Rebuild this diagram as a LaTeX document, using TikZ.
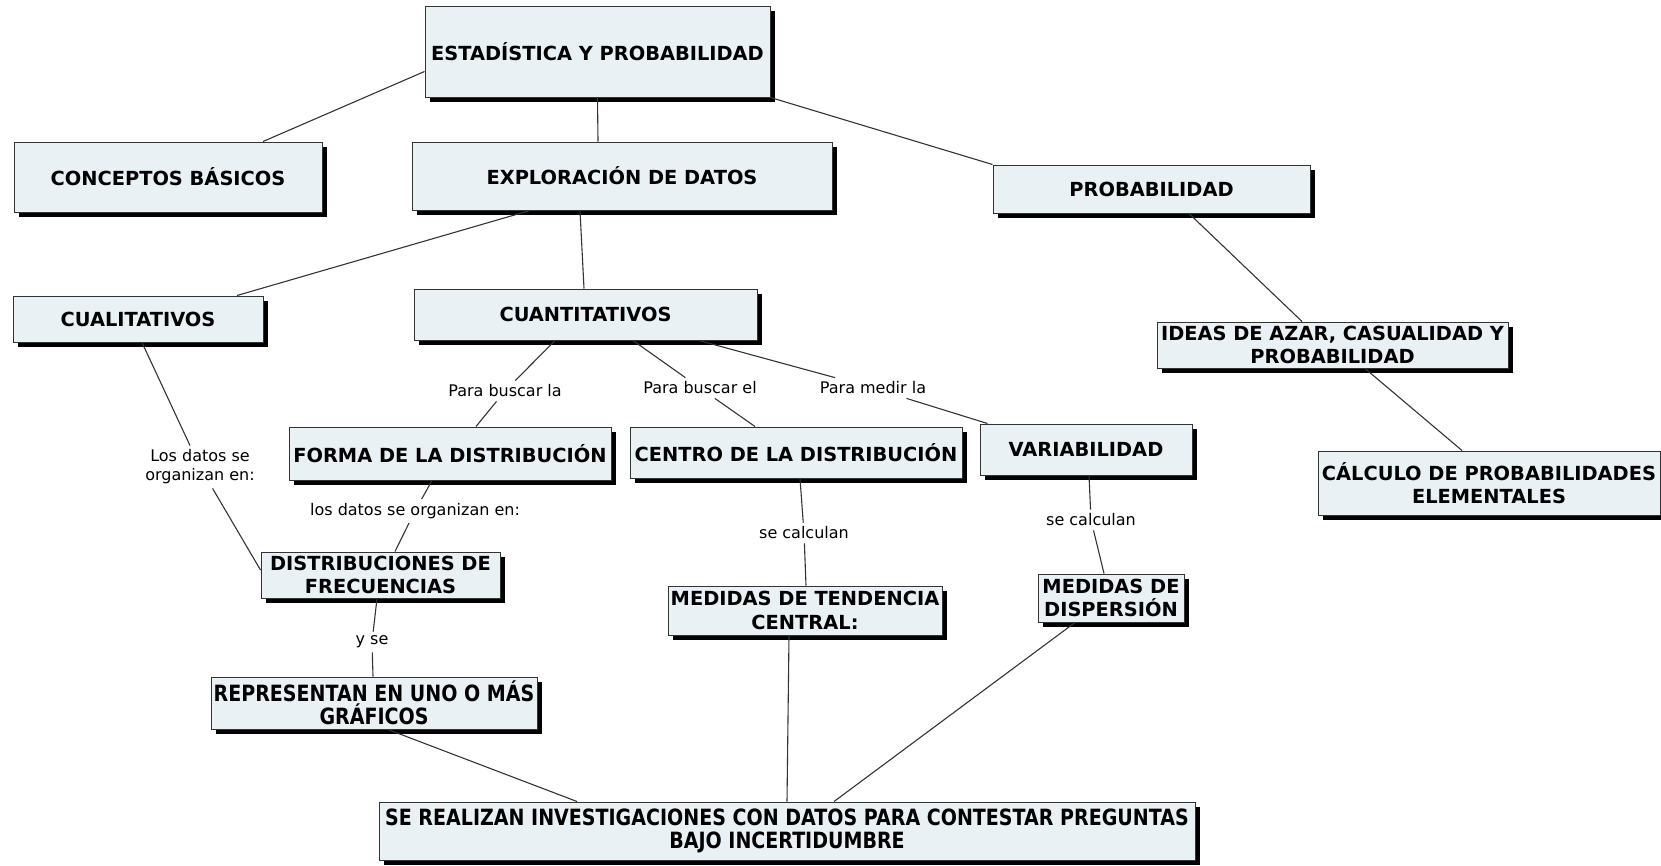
\documentclass[tikz,border=0pt]{standalone}
\usepackage{fontspec}
\setmainfont{DejaVu Sans}
\newfontfamily\narrowfont{DejaVu Sans}[FakeStretch=0.85]
\usetikzlibrary{shadows}
\definecolor{boxfill}{HTML}{EAF1F4}
\definecolor{linegray}{HTML}{333333}

\begin{document}
\begin{tikzpicture}[x=1pt,y=-1pt,
    concept/.style={draw=linegray, line width=1pt, fill=boxfill, inner sep=2pt, align=center,
      font=\fontsize{19.4}{23.5}\selectfont\bfseries,
      general shadow={fill=black, shadow xshift=5pt, shadow yshift=-5pt}},
    narrowconcept/.style={concept, font=\fontsize{22.4}{23.5}\selectfont\narrowfont\bfseries},
    linklabel/.style={inner sep=4pt, align=center, font=\fontsize{16}{19}\selectfont},
    link/.style={draw=linegray, line width=1.1pt}]
  \useasboundingbox (0,0) rectangle (1661,865);
  % Concepts
  \node[concept, minimum width=345pt, minimum height=91pt] (estad) at (597.5,51.5) {ESTADÍSTICA Y PROBABILIDAD};
  \node[concept, minimum width=308pt, minimum height=70pt] (conceptos) at (168,177) {CONCEPTOS BÁSICOS};
  \node[concept, minimum width=420pt, minimum height=68pt] (explor) at (622,176) {EXPLORACIÓN DE DATOS};
  \node[concept, minimum width=317pt, minimum height=48pt] (probab) at (1151.5,189) {PROBABILIDAD};
  \node[concept, minimum width=250pt, minimum height=46pt] (cuali) at (138,319) {CUALITATIVOS};
  \node[concept, minimum width=343pt, minimum height=51pt] (cuanti) at (585.5,314.5) {CUANTITATIVOS};
  \node[concept, minimum width=351pt, minimum height=46pt] (ideas) at (1332.5,345) {IDEAS DE AZAR, CASUALIDAD Y\\PROBABILIDAD};
  \node[concept, minimum width=342pt, minimum height=64pt] (calculo) at (1489,483) {CÁLCULO DE PROBABILIDADES\\ELEMENTALES};
  \node[concept, minimum width=322pt, minimum height=53pt] (forma) at (450,453.5) {FORMA DE LA DISTRIBUCIÓN};
  \node[concept, minimum width=332pt, minimum height=51pt] (centro) at (796,452.5) {CENTRO DE LA DISTRIBUCIÓN};
  \node[concept, minimum width=212pt, minimum height=51pt] (variab) at (1086,449.5) {VARIABILIDAD};
  \node[concept, minimum width=239pt, minimum height=46pt] (distrib) at (380.5,575) {DISTRIBUCIONES DE\\FRECUENCIAS};
  \node[concept, minimum width=274pt, minimum height=49pt] (tendencia) at (805,610.5) {MEDIDAS DE TENDENCIA\\CENTRAL:};
  \node[concept, minimum width=146pt, minimum height=48pt] (dispersion) at (1111,598) {MEDIDAS DE\\DISPERSIÓN};
  \node[narrowconcept, minimum width=326pt, minimum height=52pt] (graficos) at (374,703) {REPRESENTAN EN UNO O MÁS\\GRÁFICOS};
  \node[narrowconcept, minimum width=816pt, minimum height=58pt] (investig) at (787,831) {SE REALIZAN INVESTIGACIONES CON DATOS PARA CONTESTAR PREGUNTAS\\BAJO INCERTIDUMBRE};
  % Link labels
  \node[linklabel] (lorganizan) at (200,467) {Los datos se\\organizan en:};
  \node[linklabel] (lbuscarla) at (505,391) {Para buscar la};
  \node[linklabel] (lbuscarel) at (700,388) {Para buscar el};
  \node[linklabel] (lmedir) at (873,388) {Para medir la};
  \node[linklabel] (ldatos) at (415,511) {los datos se organizan en:};
  \node[linklabel] (lcalcula) at (804,533) {se calculan};
  \node[linklabel] (lcalculb) at (1091,520) {se calculan};
  \node[linklabel] (lyse) at (372,642) {y se};
  % Links
  \draw[link] ([yshift=-20pt]estad.west) -- ([xshift=95pt]conceptos.north);
  \draw[link] (estad.south) -- ([xshift=-24pt]explor.north);
  \draw[link] (estad.south east) -- (probab.north west);
  \draw[link] ([xshift=-92pt]explor.south) -- ([xshift=99pt]cuali.north);
  \draw[link] ([xshift=-42pt]explor.south) -- ([xshift=-1.5pt]cuanti.north);
  \draw[link] ([xshift=37.5pt]probab.south) -- ([xshift=-30.5pt]ideas.north);
  \draw[link] ([xshift=32.5pt]ideas.south) -- ([xshift=-27pt]calculo.north);
  \draw[link] ([xshift=4pt]cuali.south) -- (lorganizan) -- ([yshift=5pt]distrib.west);
  \draw[link] ([xshift=-30.5pt]cuanti.south) -- (lbuscarla) -- ([xshift=26pt]forma.north);
  \draw[link] ([xshift=47.5pt]cuanti.south) -- (lbuscarel) -- ([xshift=-41pt]centro.north);
  \draw[link] ([xshift=113.5pt]cuanti.south) -- (lmedir) -- ([xshift=8pt]variab.north west);
  \draw[link] ([xshift=-18pt]forma.south) -- (ldatos) -- ([xshift=14.5pt]distrib.north);
  \draw[link] ([xshift=4pt]centro.south) -- (lcalcula) -- ([xshift=1pt]tendencia.north);
  \draw[link] ([xshift=3pt]variab.south) -- (lcalculb) -- ([xshift=-7pt]dispersion.north);
  \draw[link] ([xshift=-3.5pt]distrib.south) -- (lyse) -- ([xshift=-1pt]graficos.north);
  \draw[link] ([xshift=14pt]graficos.south) -- ([xshift=-210pt]investig.north);
  \draw[link] ([xshift=-16pt]tendencia.south) -- (investig.north);
  \draw[link] ([xshift=-36pt]dispersion.south) -- ([xshift=47pt]investig.north);
\end{tikzpicture}
\end{document}
